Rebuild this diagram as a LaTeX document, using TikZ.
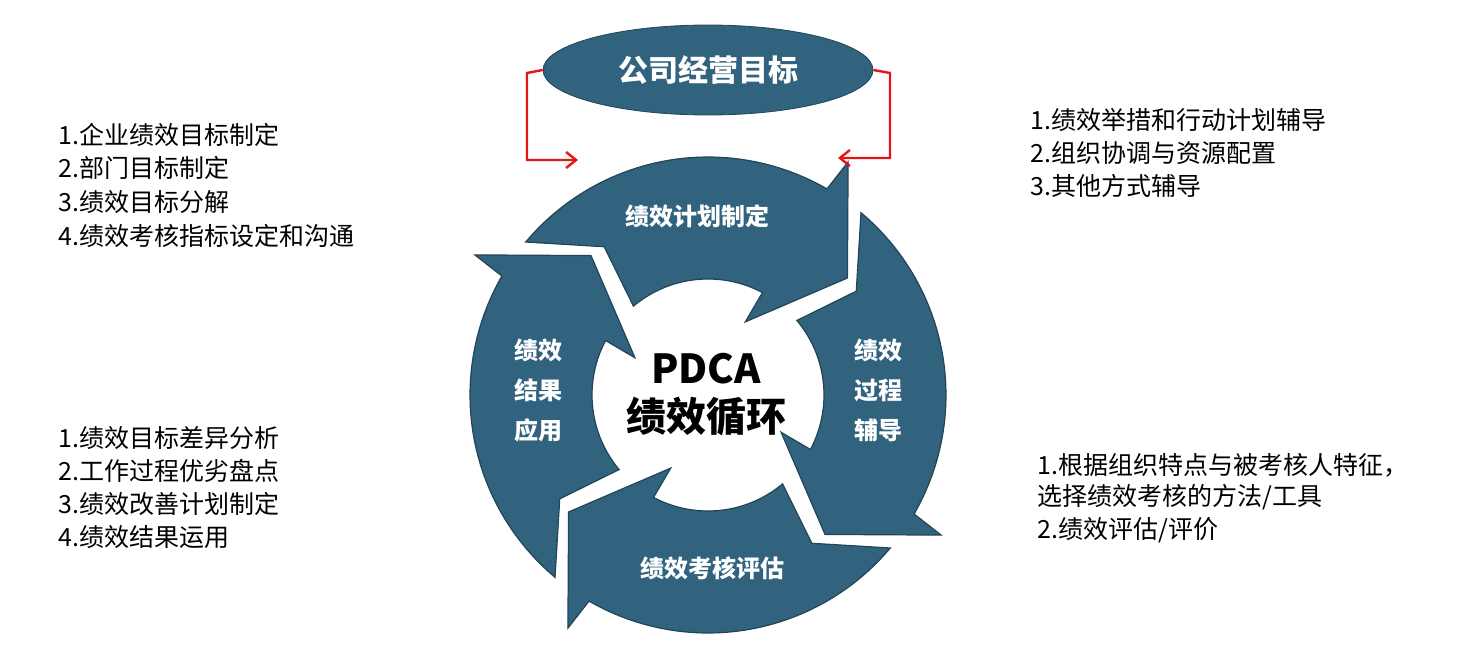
\documentclass[tikz,border=0pt]{standalone}
\usepackage{fontspec}
\setmainfont{Noto Sans CJK SC}
\usetikzlibrary{shapes.geometric,arrows.meta}
\definecolor{blu}{RGB}{49,98,126}
\definecolor{rd}{RGB}{230,20,20}
\begin{document}
\begin{tikzpicture}[x=0.5pt,y=-0.5pt,
  lst/.style={anchor=west,font=\fontsize{12.5}{14}\selectfont,inner sep=0},
  lbl/.style={text=white,font=\bfseries\fontsize{12}{20}\selectfont,align=center},
  red/.style={draw=rd,line width=1.2pt,-{Straight Barb[length=5pt,width=8pt]}}]
\useasboundingbox (0,0) rectangle (1476,664);
\coordinate (C) at (708,395);
\foreach \k in {0,90,180,270}{
  \pgfmathsetmacro\a{\k-140}\pgfmathsetmacro\b{\k-60}
  \pgfmathsetmacro\c{\k-62}\pgfmathsetmacro\d{\k-130}
  \fill[blu,draw=blu!70!black,line width=0.6pt,shift={(C)}]
    plot[domain=\a:\b,samples=40] (\x:238)
    -- (\k-59:272) -- (\k-40:182) -- (\k-63:82) -- (\k-62:116)
    -- plot[domain=\c:\d,samples=40] (\x:116)
    -- (\k-125:181) -- cycle;
}
\node[ellipse,fill=blu,draw=blu!70!black,minimum width=165pt,minimum height=45pt,inner sep=0,
  text=white,font=\bfseries\fontsize{15}{18}\selectfont] (goal) at (708,70) {公司经营目标};
\coordinate (l1) at (527,73); \coordinate (l2) at (527,160); \coordinate (l3) at (578,160);
\coordinate (r1) at (890,73); \coordinate (r2) at (890,158); \coordinate (r3) at (838,158);
\draw[red] (goal.west) -- (l1) -- (l2) -- (l3);
\draw[red] (goal.east) -- (r1) -- (r2) -- (r3);
\node[lbl] (p) at (697,216) {绩效计划制定};
\node[lbl] (c) at (712,568) {绩效考核评估};
\node[lbl] (a) at (538,390) {绩效\\结果\\应用};
\node[lbl] (d) at (878,390) {绩效\\过程\\辅导};
\node[font=\bfseries\fontsize{20}{24}\selectfont,align=center] (m) at (706,395) {PDCA\\绩效循环};
\node[lst] at (58,135) {1.企业绩效目标制定};
\node[lst] at (58,168) {2.部门目标制定};
\node[lst] at (58,202) {3.绩效目标分解};
\node[lst] at (58,236) {4.绩效考核指标设定和沟通};
\node[lst] at (58,438) {1.绩效目标差异分析};
\node[lst] at (58,471) {2.工作过程优劣盘点};
\node[lst] at (58,504) {3.绩效改善计划制定};
\node[lst] at (58,537) {4.绩效结果运用};
\node[lst] at (1030,120) {1.绩效举措和行动计划辅导};
\node[lst] at (1030,153) {2.组织协调与资源配置};
\node[lst] at (1030,186) {3.其他方式辅导};
\node[lst] at (1037,465) {1.根据组织特点与被考核人特征，};
\node[lst] at (1037,497) {选择绩效考核的方法/工具};
\node[lst] at (1037,530) {2.绩效评估/评价};
\end{tikzpicture}
\end{document}
